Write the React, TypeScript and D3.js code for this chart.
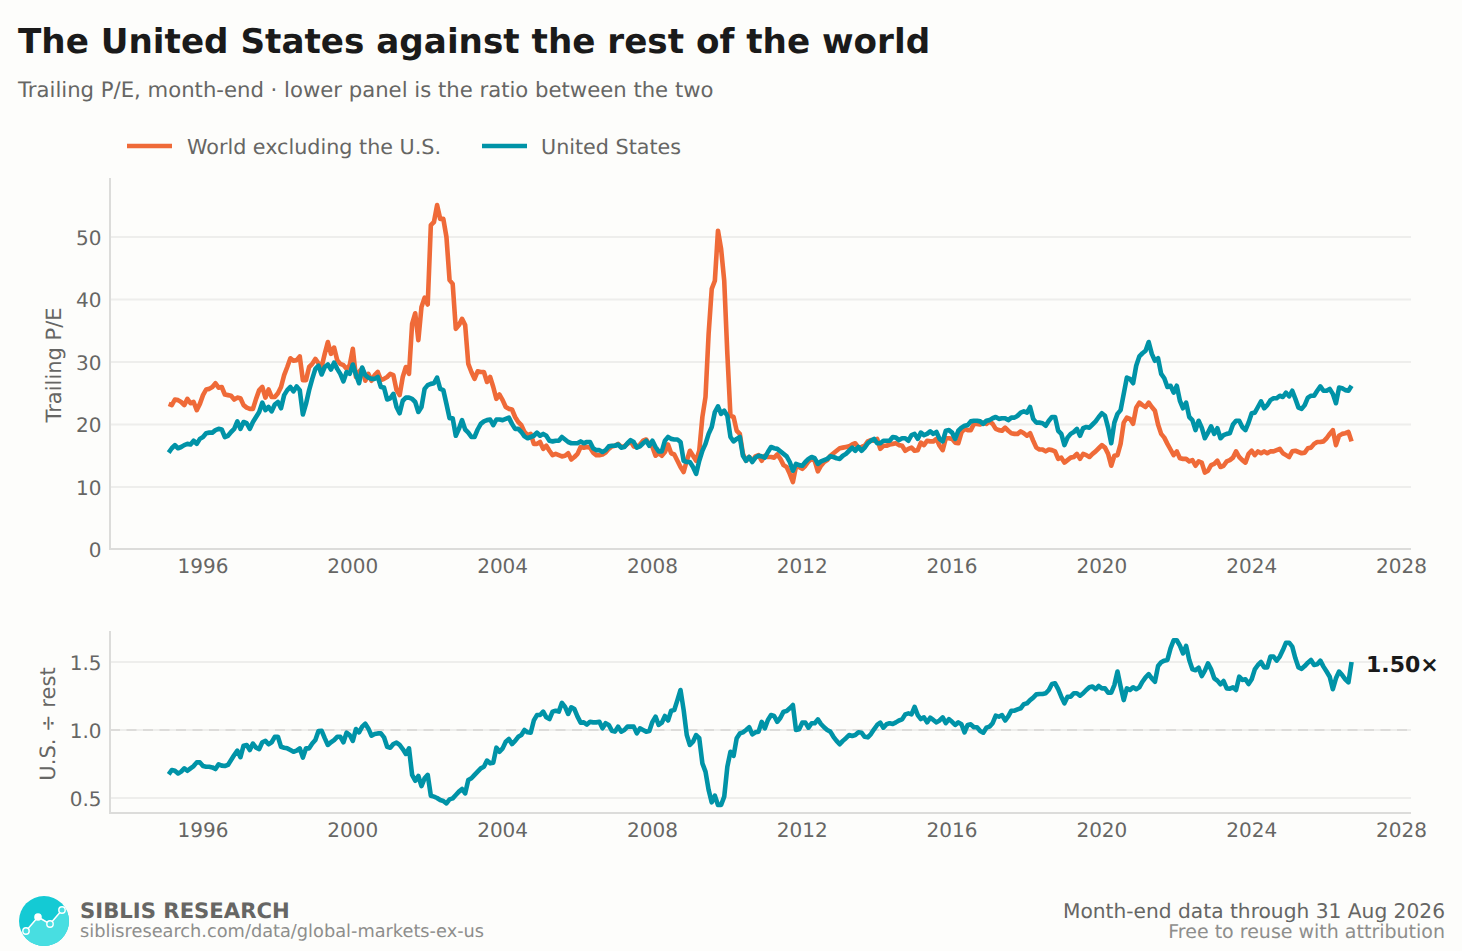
import React from "react";
import * as d3 from "d3";

const world: number[] = [
  23.3,23.1,24.0,23.9,23.6,23.1,24.1,23.4,23.6,22.3,23.3,24.7,
  25.6,25.7,26.0,26.6,25.9,26.0,24.8,24.7,24.6,24.0,24.3,24.2,
  23.1,22.7,22.5,22.5,24.1,25.5,26.0,24.3,25.6,24.4,24.4,25.0,
  26.0,27.9,29.2,30.6,30.2,30.3,30.9,27.1,27.1,29.2,29.7,30.5,
  29.8,29.2,31.3,33.2,31.3,32.3,30.3,29.7,29.5,28.9,29.5,32.1,
  27.6,28.4,29.0,27.0,28.1,27.0,27.9,28.4,27.1,27.3,27.6,28.1,
  27.9,25.5,24.7,27.6,29.2,28.1,36.1,37.8,33.5,38.8,40.3,39.2,
  51.9,52.4,55.1,52.9,52.9,50.0,43.1,42.5,35.3,35.9,36.9,35.9,
  29.7,28.4,27.3,28.5,28.4,28.4,26.8,27.6,26.0,24.1,24.8,23.9,
  22.8,22.5,22.4,21.2,20.4,19.9,18.8,18.3,18.5,16.9,16.9,17.2,
  16.1,16.6,15.8,15.1,15.3,15.1,14.9,15.0,15.4,14.4,14.8,15.3,
  16.4,16.3,16.4,16.3,15.5,15.1,15.1,15.2,15.5,16.1,16.5,16.6,
  16.9,16.4,16.5,16.9,17.3,16.5,16.4,16.8,17.4,17.6,16.8,16.4,
  15.0,15.4,15.0,15.6,16.8,15.4,15.2,14.2,13.2,12.4,14.2,15.8,
  15.0,14.2,15.8,21.2,24.4,34.5,41.7,43.0,51.0,48.1,43.0,31.3,
  21.4,21.2,19.0,18.5,15.3,14.2,14.8,14.2,14.9,15.1,14.2,15.0,
  14.8,14.8,14.7,15.2,14.5,13.5,13.2,12.1,10.8,13.3,13.2,12.9,
  13.4,14.1,14.5,14.2,12.5,13.4,14.0,14.3,15.0,15.4,15.8,16.2,
  16.3,16.4,16.5,16.8,17.0,16.3,16.4,16.6,17.3,17.5,17.4,17.7,
  16.1,16.6,16.6,16.8,16.9,17.0,16.7,16.6,15.8,16.1,16.3,15.8,
  15.9,17.1,16.7,17.4,17.3,17.3,17.7,16.6,15.9,17.8,17.8,17.7,
  17.1,17.0,18.7,19.3,19.1,19.1,20.1,20.1,20.0,20.3,20.1,20.5,
  20.1,19.3,19.1,19.0,19.5,19.0,18.6,18.5,18.5,18.9,18.6,18.2,
  18.6,17.4,16.3,16.0,16.0,15.7,16.0,15.9,15.7,14.5,14.7,13.9,
  14.3,14.7,14.8,15.3,14.5,15.3,15.1,14.8,15.3,15.7,16.2,16.7,
  16.3,15.3,13.4,15.0,15.1,16.9,20.3,21.1,20.9,20.1,22.7,23.5,
  23.1,22.8,23.5,22.8,22.2,20.0,18.5,17.9,16.9,16.0,15.1,15.7,
  14.6,14.5,14.5,14.1,14.3,13.4,14.1,13.9,12.3,12.6,13.5,13.7,
  14.2,13.2,13.4,14.1,14.3,14.7,15.7,14.8,14.3,13.9,15.3,15.8,
  15.1,15.7,15.4,15.7,15.4,15.7,15.7,15.9,16.1,15.4,15.1,14.8,
  15.7,15.8,15.6,15.4,15.5,16.2,16.3,16.9,17.2,17.2,17.3,17.8,
  18.5,19.1,16.7,18.2,18.5,18.6,18.8,17.3,
];

const unitedStates: number[] = [
  15.5,16.2,16.7,16.2,16.4,16.7,16.9,16.8,17.4,16.9,17.7,18.0,
  18.6,18.7,18.7,19.1,19.3,19.2,18.0,18.2,18.8,19.3,20.5,19.3,
  20.4,20.2,19.3,20.4,21.2,22.0,23.5,22.3,22.8,22.1,23.2,23.6,
  22.6,24.7,25.5,26.0,25.3,26.1,25.5,21.6,23.3,25.5,27.3,28.9,
  29.4,28.0,29.2,29.6,28.8,29.9,28.9,28.1,26.9,28.4,28.1,29.6,
  28.0,26.6,29.1,27.9,27.5,27.3,27.3,27.6,26.0,25.9,24.0,24.2,
  24.9,22.8,21.8,23.8,24.3,24.3,24.1,23.6,22.0,22.8,25.7,26.3,
  26.5,26.6,27.5,25.7,25.5,23.3,21.0,21.0,18.2,19.3,20.7,19.2,
  18.7,18.0,18.0,19.2,20.1,20.5,20.7,20.8,19.9,20.8,20.8,20.7,
  20.9,21.1,20.1,19.3,19.3,18.8,18.1,17.8,18.0,18.2,18.7,18.2,
  18.5,18.2,17.4,17.3,17.4,17.4,18.0,17.6,17.2,17.0,17.0,17.0,
  17.3,17.0,17.2,17.2,16.2,15.9,15.9,15.6,15.9,16.5,16.6,16.6,
  16.8,16.3,16.4,17.0,17.5,17.2,16.3,16.5,17.0,17.4,16.6,17.4,
  16.4,15.7,15.7,17.4,18.0,17.7,17.6,17.6,17.2,14.2,14.0,14.0,
  13.2,12.1,14.2,15.8,16.9,18.5,19.6,22.0,22.9,21.7,22.2,21.4,
  18.0,17.3,17.7,18.0,15.0,14.2,14.8,14.0,14.7,15.0,14.9,14.7,
  15.6,16.4,16.2,16.1,15.7,15.3,14.9,14.0,12.6,13.7,13.5,13.4,
  14.0,14.5,14.8,14.6,13.7,14.1,14.3,14.5,14.9,14.8,14.6,14.5,
  15.0,15.3,15.8,16.3,15.8,16.4,15.8,16.3,17.0,17.4,17.7,17.0,
  17.0,17.4,17.4,17.4,18.0,17.9,17.5,17.8,17.8,17.4,18.3,18.5,
  17.7,18.7,18.3,18.5,18.9,18.5,18.8,17.7,17.3,19.0,19.1,18.7,
  17.7,19.0,19.5,19.8,19.9,20.5,20.6,20.6,20.5,20.1,20.6,20.7,
  21.0,21.2,20.9,21.0,21.0,20.7,21.1,21.1,21.4,21.9,22.1,21.9,
  22.8,20.9,20.3,20.3,20.2,19.8,20.6,21.2,21.2,19.0,18.5,16.7,
  17.9,18.5,18.8,19.3,18.2,19.4,19.6,19.5,20.0,20.5,21.2,21.8,
  21.4,19.5,17.0,20.3,21.7,22.3,24.9,27.5,27.3,26.6,29.4,30.9,
  31.4,31.8,33.2,31.3,30.2,30.6,28.1,27.4,26.0,26.2,25.1,26.2,
  23.8,22.6,23.5,21.2,20.7,19.1,20.6,19.5,17.8,18.7,19.7,18.5,
  19.4,17.8,18.3,18.5,18.6,20.0,20.6,20.6,19.6,19.1,20.3,21.8,
  21.9,22.8,23.7,22.6,23.1,23.9,24.2,24.2,24.6,24.4,25.1,24.5,
  25.4,24.1,22.7,22.5,23.1,24.3,24.6,24.6,25.4,26.1,25.4,25.4,
  25.7,24.9,23.4,25.9,25.8,25.5,25.4,26.2,
];

const ratio: number[] = [
  .674,.706,.70,.68,.694,.718,.70,.718,.735,.762,.762,.735,
  .73,.73,.725,.713,.748,.738,.735,.743,.78,.816,.848,.80,
  .885,.89,.853,.90,.87,.86,.91,.92,.895,.91,.95,.95,
  .877,.87,.865,.853,.84,.848,.865,.797,.865,.865,.90,.926,
  .993,.995,.94,.89,.91,.926,.95,.95,.91,.98,.963,.92,
  1.007,.983,1.025,1.046,1.01,.958,.97,.975,.975,.946,.877,.87,
  .897,.907,.89,.86,.824,.865,.67,.627,.662,.588,.645,.67,
  .517,.51,.50,.485,.478,.46,.49,.497,.522,.547,.566,.534,
  .632,.645,.67,.694,.718,.73,.775,.755,.76,.87,.84,.865,
  .914,.934,.897,.92,.95,.963,1.0,.983,.98,1.07,1.11,1.11,
  1.135,1.093,1.08,1.135,1.142,1.135,1.20,1.17,1.118,1.167,1.154,1.098,
  1.054,1.056,1.04,1.06,1.056,1.056,1.06,1.012,1.05,1.037,.995,.988,
  1.025,.988,1.0,1.025,1.025,1.025,.975,1.012,1.0,.988,.993,1.06,
  1.098,1.037,1.054,1.103,1.07,1.142,1.147,1.22,1.294,1.147,.963,.89,
  .914,.963,.94,.755,.694,.56,.468,.517,.449,.449,.51,.73,
  .84,.81,.94,.975,.983,1.0,1.02,.968,.983,.988,1.06,1.012,
  1.074,1.11,1.103,1.06,1.09,1.135,1.14,1.16,1.184,1.0,1.005,1.054,
  1.054,1.017,1.05,1.05,1.078,1.044,1.02,1.0,.988,.95,.92,.895,
  .92,.94,.963,.956,.963,.983,.98,.95,.946,.97,1.005,1.037,
  1.054,1.017,1.042,1.05,1.044,1.056,1.07,1.078,1.115,1.122,1.115,1.17,
  1.11,1.08,1.093,1.056,1.09,1.074,1.056,1.07,1.093,1.05,1.08,1.06,
  1.037,1.056,1.042,.983,1.037,1.042,1.02,1.02,.993,.98,1.017,1.025,
  1.05,1.105,1.098,1.11,1.07,1.10,1.142,1.142,1.152,1.16,1.19,1.196,
  1.22,1.238,1.262,1.265,1.265,1.27,1.294,1.338,1.343,1.30,1.245,1.196,
  1.245,1.245,1.27,1.27,1.252,1.27,1.294,1.314,1.32,1.30,1.324,1.306,
  1.306,1.275,1.275,1.33,1.43,1.32,1.22,1.306,1.294,1.314,1.30,1.314,
  1.355,1.387,1.41,1.38,1.355,1.47,1.498,1.51,1.515,1.60,1.66,1.66,
  1.62,1.564,1.618,1.515,1.446,1.44,1.458,1.397,1.436,1.49,1.446,1.38,
  1.363,1.336,1.36,1.306,1.304,1.314,1.294,1.392,1.368,1.373,1.338,1.373,
  1.446,1.478,1.50,1.46,1.46,1.54,1.54,1.51,1.54,1.588,1.642,1.642,
  1.613,1.527,1.46,1.45,1.47,1.495,1.515,1.478,1.483,1.51,1.466,1.43,
  1.392,1.30,1.38,1.43,1.404,1.373,1.35,1.50,
];

const xTicks = [1996, 2000, 2004, 2008, 2012, 2016, 2020, 2024, 2028];
const peTicks = [0, 10, 20, 30, 40, 50];
const ratioTicks = [0.5, 1.0, 1.5];
const startYear = 1995;

const BG = "#FDFDFB";
const ORANGE = "#EF6A38";
const TEAL = "#0093A7";
const GRID = "#EEEEEC";
const SPINE = "#DCDCDA";
const TEXT = "#666664";
const MUTED = "#8E8E8C";
const DARK = "#1A1A1A";
const FONT = "'DejaVu Sans', sans-serif";

const x = d3.scaleLinear().domain([1996, 2028]).range([203, 1401.5]);
const yTop = d3.scaleLinear().domain([0, 50]).range([549.5, 237]);
const yBot = d3.scaleLinear().domain([0.5, 1.5]).range([798, 662]);
const year = (i: number) => startYear + (i + 1) / 12;

const lineTop = d3.line<number>().x((_, i) => x(year(i))).y((d) => yTop(d));
const lineBot = d3.line<number>().x((_, i) => x(year(i))).y((d) => yBot(d));

const LEFT = 110;
const RIGHT = 1411;
const TOP_BASE = 549;
const BOT_BASE = 813;
const LINE_W = 4.6;

export default function App() {
  return (
    <svg
      width={1462}
      height={951}
      viewBox="0 0 1462 951"
      style={{ position: "absolute", left: 0, top: 0, display: "block", textRendering: "geometricPrecision" }}
      fontFamily={FONT}
    >
      <rect width={1462} height={951} fill={BG} />
      <text x={18} y={53} fontSize={34.2} fontWeight={700} fill={DARK}>
        The United States against the rest of the world
      </text>
      <text x={18} y={97} fontSize={21.2} fill={TEXT}>
        Trailing P/E, month-end · lower panel is the ratio between the two
      </text>

      <line x1={127} x2={172} y1={146} y2={146} stroke={ORANGE} strokeWidth={LINE_W} />
      <text x={187} y={153.5} fontSize={20.7} fill={TEXT}>World excluding the U.S.</text>
      <line x1={482} x2={527} y1={146} y2={146} stroke={TEAL} strokeWidth={LINE_W} />
      <text x={541} y={153.5} fontSize={20.7} fill={TEXT}>United States</text>

      {peTicks.slice(1).map((t) => (
        <line key={t} x1={LEFT} x2={RIGHT} y1={yTop(t)} y2={yTop(t)} stroke={GRID} strokeWidth={2.2} />
      ))}
      <line x1={LEFT} x2={LEFT} y1={178} y2={TOP_BASE + 1} stroke={SPINE} strokeWidth={2} />
      <line x1={LEFT} x2={RIGHT} y1={TOP_BASE} y2={TOP_BASE} stroke={SPINE} strokeWidth={2} />
      {peTicks.map((t) => (
        <text key={t} x={101.5} y={yTop(t) + 7.5} textAnchor="end" fontSize={20} fill={TEXT}>{t}</text>
      ))}
      {xTicks.map((t) => (
        <text key={t} x={x(t)} y={573} textAnchor="middle" fontSize={20} fill={TEXT}>{t}</text>
      ))}
      <text transform="translate(61,365) rotate(-90)" textAnchor="middle" fontSize={21} fill={TEXT}>Trailing P/E</text>
      <path d={lineTop(world) ?? ""} fill="none" stroke={ORANGE} strokeWidth={LINE_W} strokeLinejoin="round" />
      <path d={lineTop(unitedStates) ?? ""} fill="none" stroke={TEAL} strokeWidth={LINE_W} strokeLinejoin="round" />

      {ratioTicks.map((t) => (
        <line key={t} x1={LEFT} x2={RIGHT} y1={yBot(t)} y2={yBot(t)} stroke={GRID} strokeWidth={2.2} />
      ))}
      <line x1={LEFT} x2={RIGHT} y1={yBot(1)} y2={yBot(1)} stroke="#DDDCDA" strokeWidth={2.2} strokeDasharray="10 6.5" />
      <line x1={LEFT} x2={LEFT} y1={631} y2={BOT_BASE + 1} stroke={SPINE} strokeWidth={2} />
      <line x1={LEFT} x2={RIGHT} y1={BOT_BASE} y2={BOT_BASE} stroke={SPINE} strokeWidth={2} />
      {ratioTicks.map((t) => (
        <text key={t} x={101.5} y={yBot(t) + 7.5} textAnchor="end" fontSize={20} fill={TEXT}>{t.toFixed(1)}</text>
      ))}
      {xTicks.map((t) => (
        <text key={t} x={x(t)} y={837} textAnchor="middle" fontSize={20} fill={TEXT}>{t}</text>
      ))}
      <text transform="translate(55,724) rotate(-90)" textAnchor="middle" fontSize={21} fill={TEXT}>U.S. ÷ rest</text>
      <path d={lineBot(ratio) ?? ""} fill="none" stroke={TEAL} strokeWidth={LINE_W} strokeLinejoin="round" />
      <text x={1366} y={671.5} fontSize={22} fontWeight={700} fill={DARK}>1.50×</text>

      <g>
        <circle cx={44} cy={921} r={25} fill="#14CAD4" />
        <clipPath id="logoClip"><circle cx={44} cy={921} r={25} /></clipPath>
        <path d="M19,946 L19,937 L26,931 L38,917 L50,924 L62,910 L69,905 L69,946 Z" fill="#48DEE1" clipPath="url(#logoClip)" />
        <polyline points="26,931 38,917 50,924 62,910" fill="none" stroke="#fff" strokeWidth={1.5} />
        <circle cx={26} cy={931} r={3.2} fill="#48DEE1" stroke="#fff" strokeWidth={1.4} />
        <circle cx={38} cy={917} r={3.8} fill="#fff" />
        <circle cx={50} cy={924} r={3.2} fill="#48DEE1" stroke="#fff" strokeWidth={1.4} />
        <circle cx={62} cy={910} r={3.2} fill="#48DEE1" stroke="#fff" strokeWidth={1.4} />
      </g>
      <text x={80} y={918} fontSize={21.2} fontWeight={700} fill={TEXT}>SIBLIS RESEARCH</text>
      <text x={80} y={937} fontSize={17.75} fill={MUTED}>siblisresearch.com/data/global-markets-ex-us</text>
      <text x={1445} y={918} textAnchor="end" fontSize={20.2} fill={TEXT}>Month-end data through 31 Aug 2026</text>
      <text x={1445} y={938} textAnchor="end" fontSize={19} fill={MUTED}>Free to reuse with attribution</text>
    </svg>
  );
}
